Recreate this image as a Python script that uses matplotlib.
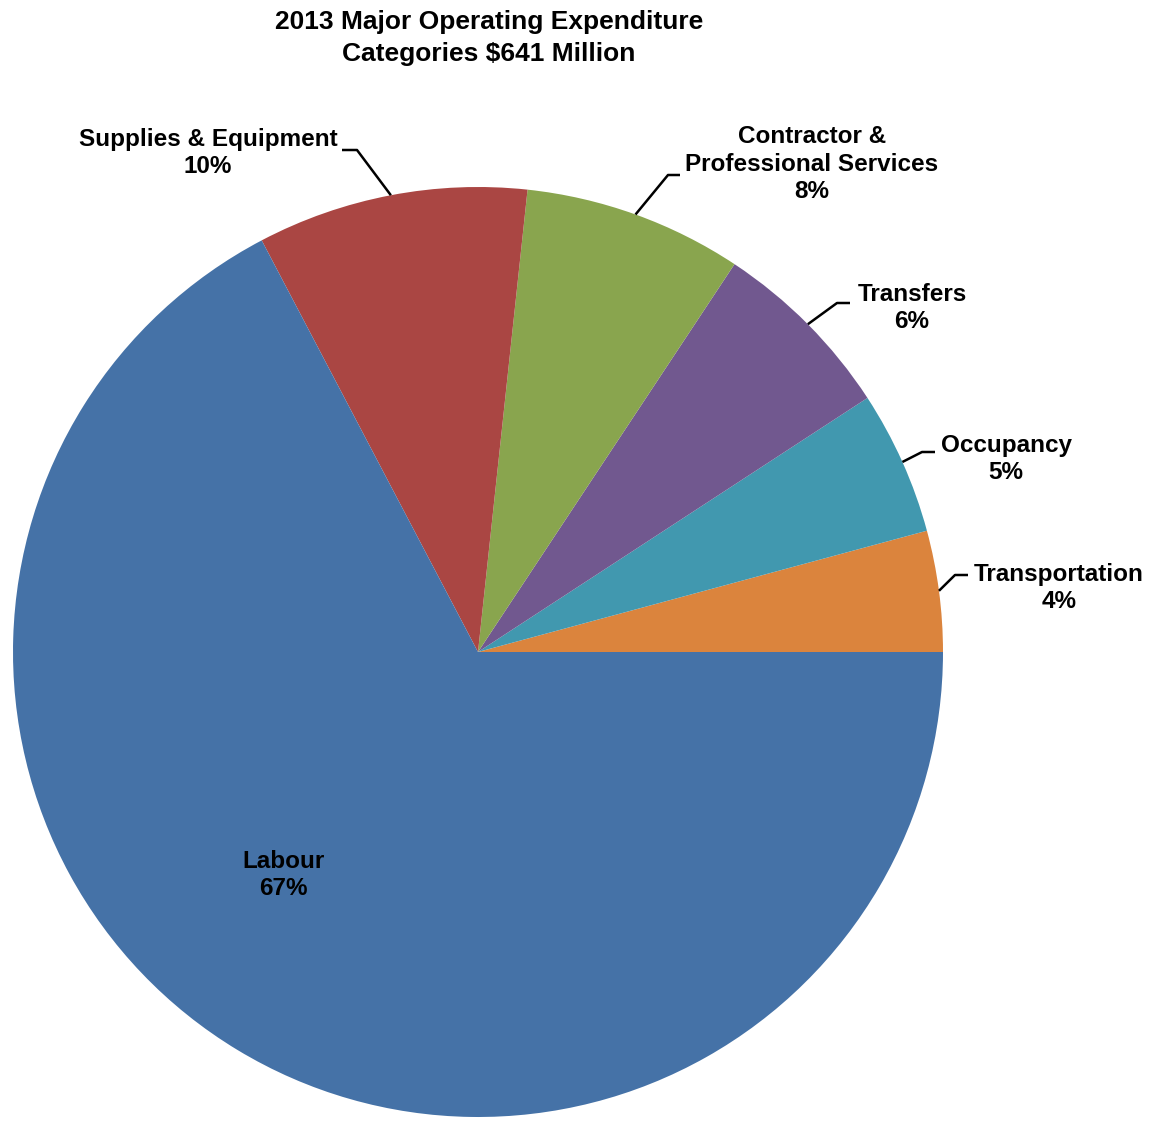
import matplotlib
matplotlib.use("Agg")
import matplotlib.pyplot as plt
import numpy as np

# data, counterclockwise from 3 o'clock
categories = ["Transportation", "Occupancy", "Transfers",
              "Contractor &\nProfessional Services", "Supplies & Equipment", "Labour"]
shares = [4.2, 5.0, 6.5, 7.6, 9.4, 67.3]
pct_labels = ["4%", "5%", "6%", "8%", "10%", "67%"]
colors = ["#DB843D", "#4198AF", "#71588F", "#89A54E", "#AA4643", "#4572A7"]

title = "2013 Major Operating Expenditure\nCategories $641 Million"

W, H = 1154, 1122
plt.rcParams['font.family'] = ['Liberation Sans', 'DejaVu Sans']

fig = plt.figure(figsize=(W / 100, H / 100), dpi=100)
ax = fig.add_axes([0, 0, 1, 1])

# pie geometry in pixel units (y measured from top in the reference)
cx, cy, r = 478, 652, 465
def Y(py):
    return H - py

wedges, _ = ax.pie(shares, colors=colors, startangle=0, counterclock=True,
                   center=(cx, Y(cy)), radius=r, frame=True,
                   wedgeprops=dict(linewidth=0))
ax.set_xlim(0, W)
ax.set_ylim(0, H)
ax.set_aspect('equal')
ax.axis('off')

# label block centers and leader elbow points
label_pos = [(1059, 588), (1006, 459), (912, 308), (812, 164), (208, 153), (283, 875)]
elbows = [((955, 575), (968, 575)),
          ((922, 452), (935, 452)),
          ((837, 303), (850, 303)),
          ((668, 175), (680, 175)),
          ((357, 150), (342, 150)),
          None]

for i, w in enumerate(wedges):
    text = categories[i] + "\n" + pct_labels[i]
    lx, ly = label_pos[i]
    ax.text(lx, Y(ly), text, ha='center', va='center',
            fontsize=17.5, fontweight='bold', linespacing=1.25)
    if elbows[i] is not None:
        mid = np.deg2rad((w.theta1 + w.theta2) / 2)
        sx = cx + r * np.cos(mid)
        sy = cy - r * np.sin(mid)
        (ex, ey), (fx, fy) = elbows[i]
        ax.plot([sx, ex, fx], [Y(sy), Y(ey), Y(fy)], color='black', lw=1.8,
                solid_capstyle='butt')

ax.text(489, Y(38), title, ha='center', va='center', fontsize=19,
        fontweight='bold', linespacing=1.4)

fig.savefig("out.png", dpi=100)
